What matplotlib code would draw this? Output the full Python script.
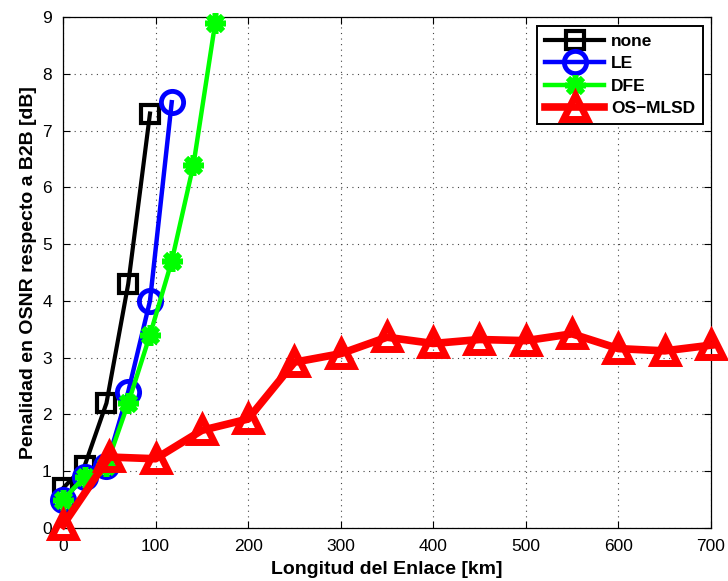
import matplotlib
matplotlib.use("Agg")
import matplotlib.pyplot as plt

plt.rcParams['font.family'] = ['Liberation Sans', 'DejaVu Sans']

# Link length [km] and OSNR penalty [dB] for each equalizer
x_none = [0, 23.5, 47, 70.5, 94]
y_none = [0.7, 1.1, 2.2, 4.3, 7.3]

x_le = [0, 23.5, 47, 70.5, 94, 117.5]
y_le = [0.5, 0.9, 1.1, 2.4, 4.0, 7.5]

x_dfe = [0, 23.5, 47, 70.5, 94, 117.5, 141, 164.5]
y_dfe = [0.5, 0.9, 1.1, 2.2, 3.4, 4.7, 6.4, 8.9]

x_mlsd = [0, 50, 100, 150, 200, 250, 300, 350, 400, 450, 500, 550, 600, 650, 700]
y_mlsd = [0.05, 1.25, 1.22, 1.72, 1.92, 2.92, 3.07, 3.36, 3.25, 3.32, 3.3, 3.42, 3.16, 3.12, 3.22]

labels = ['none', 'LE', 'DFE', 'OS\u2212MLSD']
x_ticks = [0, 100, 200, 300, 400, 500, 600, 700]
y_ticks = [0, 1, 2, 3, 4, 5, 6, 7, 8, 9]

fig = plt.figure(figsize=(7.28, 5.81), dpi=100)
ax = fig.add_axes([0.0865, 0.0912, 0.890, 0.8795])

asterisk = (8, 2, 0)
ax.plot(x_none, y_none, color='black', lw=3, marker='s', ms=13, mew=3,
        mfc='none', label=labels[0], clip_on=False, zorder=3)
ax.plot(x_le, y_le, color='blue', lw=3.2, marker='o', ms=16, mew=3.5,
        mfc='none', label=labels[1], clip_on=False, zorder=4)
ax.plot(x_dfe, y_dfe, color='#00ff00', lw=3.2, marker=asterisk, ms=15, mew=4,
        mfc='none', label=labels[2], clip_on=False, zorder=5)
ax.plot(x_mlsd, y_mlsd, color='red', lw=5.5, marker='^', ms=17, mew=5,
        mfc='none', label=labels[3], clip_on=False, zorder=6)

ax.set_xlim(0, 700)
ax.set_ylim(0, 9)
ax.set_xticks(x_ticks)
ax.set_yticks(y_ticks)
ax.tick_params(direction='in', length=5, width=0.8, top=True, right=True,
               labelsize=12.5, pad=8)
ax.grid(True, linestyle=(0, (1, 4)), color='#444444', linewidth=0.8)
ax.set_axisbelow(True)
for sp in ax.spines.values():
    sp.set_linewidth(0.9)

ax.set_xlabel('Longitud del Enlace [km]', fontsize=14, fontweight='bold', labelpad=5)
ax.set_ylabel('Penalidad en OSNR respecto a B2B [dB]', fontsize=14,
              fontweight='bold', labelpad=4)

leg = ax.legend(loc='upper right', bbox_to_anchor=(703 / 728, 1 - 26 / 581),
                bbox_transform=fig.transFigure, borderaxespad=0,
                prop={'weight': 'bold', 'size': 12.5}, fancybox=False,
                edgecolor='black', framealpha=1, handlelength=3.4,
                handletextpad=0.4, borderpad=0.45, labelspacing=0.42)
leg.get_frame().set_linewidth(1.4)

fig.savefig('out.png', dpi=100)
